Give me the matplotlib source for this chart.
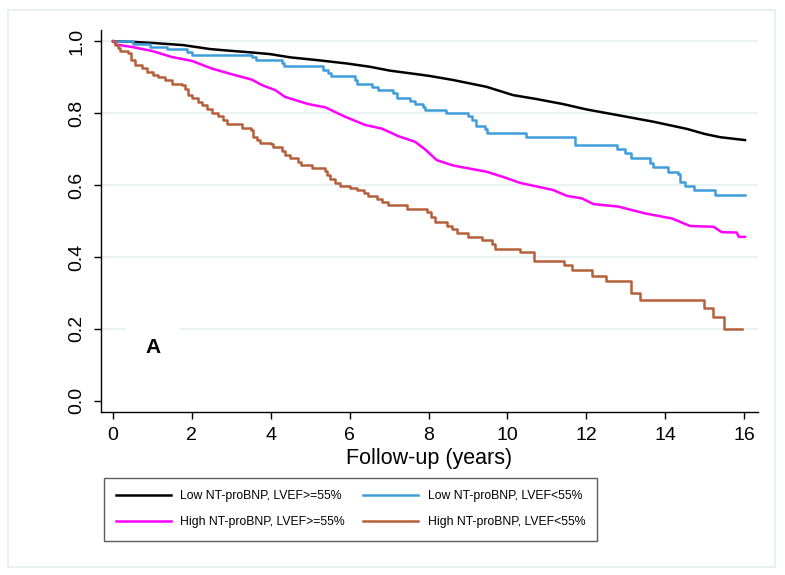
import matplotlib
matplotlib.use("Agg")
import matplotlib.pyplot as plt
from matplotlib.patches import Rectangle

plt.rcParams['font.family'] = ['Liberation Sans', 'DejaVu Sans']

# Low NT-proBNP, LVEF>=55% (many small steps, read as a smooth trace)
low_pres_t = [0, 0.5, 1.0, 1.78, 2.46, 3.0, 3.47, 3.98, 4.49, 5.2, 5.92, 6.5, 7.02, 7.78,
              8.04, 8.62, 9.47, 10.14, 10.74, 11.41, 12.01, 12.86, 13.7, 14.55, 15.0, 15.39, 16.02]
low_pres_s = [1.0, 0.998, 0.995, 0.989, 0.978, 0.973, 0.969, 0.964, 0.955, 0.947, 0.938, 0.929, 0.918, 0.907,
              0.903, 0.892, 0.873, 0.85, 0.839, 0.825, 0.81, 0.793, 0.776, 0.756, 0.742, 0.733, 0.725]

# Low NT-proBNP, LVEF<55% (step function)
low_red_t = [0, 0.51, 0.94, 1.36, 1.87, 2.0, 3.52, 3.62, 4.28, 4.34, 5.33, 5.46, 5.52, 6.14, 6.18,
             6.56, 6.73, 7.11, 7.19, 7.53, 7.66, 7.87, 7.91, 8.43, 9.01, 9.09, 9.2, 9.43, 9.47, 10.47,
             11.71, 12.77, 12.98, 13.12, 13.6, 13.68, 14.08, 14.31, 14.38, 14.5, 14.73, 15.25, 16.02]
low_red_s = [1.0, 0.992, 0.984, 0.977, 0.969, 0.962, 0.955, 0.947, 0.938, 0.931, 0.921, 0.912, 0.904, 0.892, 0.881,
             0.873, 0.864, 0.855, 0.841, 0.834, 0.825, 0.816, 0.809, 0.8, 0.792, 0.782, 0.765, 0.757, 0.745, 0.734,
             0.71, 0.699, 0.688, 0.676, 0.662, 0.651, 0.637, 0.63, 0.609, 0.598, 0.586, 0.571, 0.571]

# High NT-proBNP, LVEF>=55%
high_pres_t = [0, 0.1, 0.47, 0.98, 1.49, 2.0, 2.5, 3.01, 3.52, 3.77, 4.11, 4.36, 4.95, 5.38, 5.88,
               6.39, 6.81, 7.23, 7.66, 7.9, 8.21, 8.63, 9.47, 9.9, 10.32, 11.16, 11.5, 11.88, 12.18,
               12.81, 13.49, 14.17, 14.63, 15.22, 15.43, 15.81, 15.86, 16.02]
high_pres_s = [1.0, 0.99, 0.984, 0.973, 0.956, 0.945, 0.924, 0.908, 0.893, 0.878, 0.864, 0.845, 0.825, 0.816, 0.79,
               0.767, 0.757, 0.736, 0.72, 0.70, 0.669, 0.654, 0.637, 0.622, 0.606, 0.586, 0.57, 0.563, 0.547,
               0.54, 0.521, 0.507, 0.486, 0.484, 0.469, 0.468, 0.456, 0.456]

# High NT-proBNP, LVEF<55% (step function)
high_red_t = [0, 0.05, 0.13, 0.18, 0.39, 0.46, 0.56, 0.73, 0.85, 1.02, 1.15, 1.32, 1.49, 1.76, 1.83, 1.91,
              2.0, 2.16, 2.25, 2.38, 2.5, 2.67, 2.8, 2.88, 3.26, 3.49, 3.56, 3.64, 3.73, 4.0, 4.06, 4.28,
              4.36, 4.49, 4.7, 4.77, 5.04, 5.38, 5.42, 5.5, 5.63, 5.76, 6.01, 6.18, 6.35, 6.47, 6.69, 6.83,
              6.96, 7.45, 7.95, 8.06, 8.16, 8.46, 8.59, 8.71, 9.01, 9.36, 9.6, 9.69, 10.32, 10.66, 11.42,
              11.63, 12.14, 12.49, 13.13, 13.36, 14.97, 15.2, 15.5, 15.94]
high_red_s = [1.0, 0.989, 0.982, 0.973, 0.967, 0.947, 0.933, 0.924, 0.915, 0.906, 0.901, 0.892, 0.882, 0.878, 0.866, 0.85,
              0.841, 0.831, 0.822, 0.811, 0.799, 0.792, 0.781, 0.771, 0.759, 0.753, 0.734, 0.725, 0.718, 0.714, 0.706, 0.695,
              0.683, 0.674, 0.665, 0.656, 0.646, 0.64, 0.628, 0.616, 0.607, 0.597, 0.591, 0.586, 0.579, 0.569, 0.56, 0.552,
              0.544, 0.533, 0.526, 0.512, 0.497, 0.487, 0.477, 0.466, 0.455, 0.446, 0.436, 0.422, 0.413, 0.39, 0.377,
              0.364, 0.348, 0.332, 0.299, 0.281, 0.257, 0.232, 0.199, 0.199]

labels = ['Low NT-proBNP, LVEF>=55%', 'Low NT-proBNP, LVEF<55%',
          'High NT-proBNP, LVEF>=55%', 'High NT-proBNP, LVEF<55%']
colors = ['#000000', '#3f9ddb', '#ff00ff', '#b4603a']

fig = plt.figure(figsize=(7.85, 5.75), dpi=100)
fig.patches.append(Rectangle((8 / 785, 1 - 567 / 575), 767 / 785, 557 / 575,
                             transform=fig.transFigure, fill=False,
                             edgecolor='#e4eef0', linewidth=1.2))
ax = fig.add_axes([101 / 785, 1 - 412 / 575, 657 / 785, 382 / 575])

lw = 1.8
l1, = ax.plot(low_pres_t, low_pres_s, color=colors[0], lw=lw)
l2, = ax.step(low_red_t, low_red_s, where='post', color=colors[1], lw=lw)
l3, = ax.plot(high_pres_t, high_pres_s, color=colors[2], lw=lw)
l4, = ax.step(high_red_t, high_red_s, where='post', color=colors[3], lw=lw)

ax.set_xlim(-0.304, 16.35)
ax.set_ylim(-0.031, 1.031)
ax.set_xticks(range(0, 17, 2))
ax.set_yticks([0.0, 0.2, 0.4, 0.6, 0.8, 1.0])
ax.set_yticklabels(['0.0', '0.2', '0.4', '0.6', '0.8', '1.0'], rotation=90, va='center')
for y in [0.2, 0.4, 0.6, 0.8, 1.0]:
    ax.axhline(y, color='#eaf2f4', lw=1.5, zorder=0)
ax.tick_params(labelsize=14, length=5, width=1, direction='out')
ax.tick_params(axis='y', pad=6)
ax.tick_params(axis='x', pad=6)
for s in ['top', 'right']:
    ax.spines[s].set_visible(False)
ax.spines['left'].set_linewidth(1)
ax.spines['bottom'].set_linewidth(1)
ax.set_xlabel('Follow-up (years)', fontsize=15.5, labelpad=3)

ax.text(1.02, 0.147, 'A', fontsize=15, fontweight='bold', ha='center', va='center',
        bbox=dict(facecolor='white', edgecolor='none', pad=14), zorder=1)

# legend rows: Low first, High second (matplotlib fills column-wise)
order = [0, 2, 1, 3]
handles = [l1, l2, l3, l4]
leg = fig.legend([handles[i] for i in order], [labels[i] for i in order], ncol=2,
                 loc='upper left', bbox_to_anchor=(104 / 785, 1 - 478 / 575), borderaxespad=0,
                 prop={'size': 8.8}, frameon=True, fancybox=False, edgecolor='#333333',
                 handlelength=4.5, handletextpad=0.75, columnspacing=1.5, labelspacing=1.15,
                 borderpad=1.0)
leg.get_frame().set_linewidth(1)

fig.savefig('out.png', dpi=100)
